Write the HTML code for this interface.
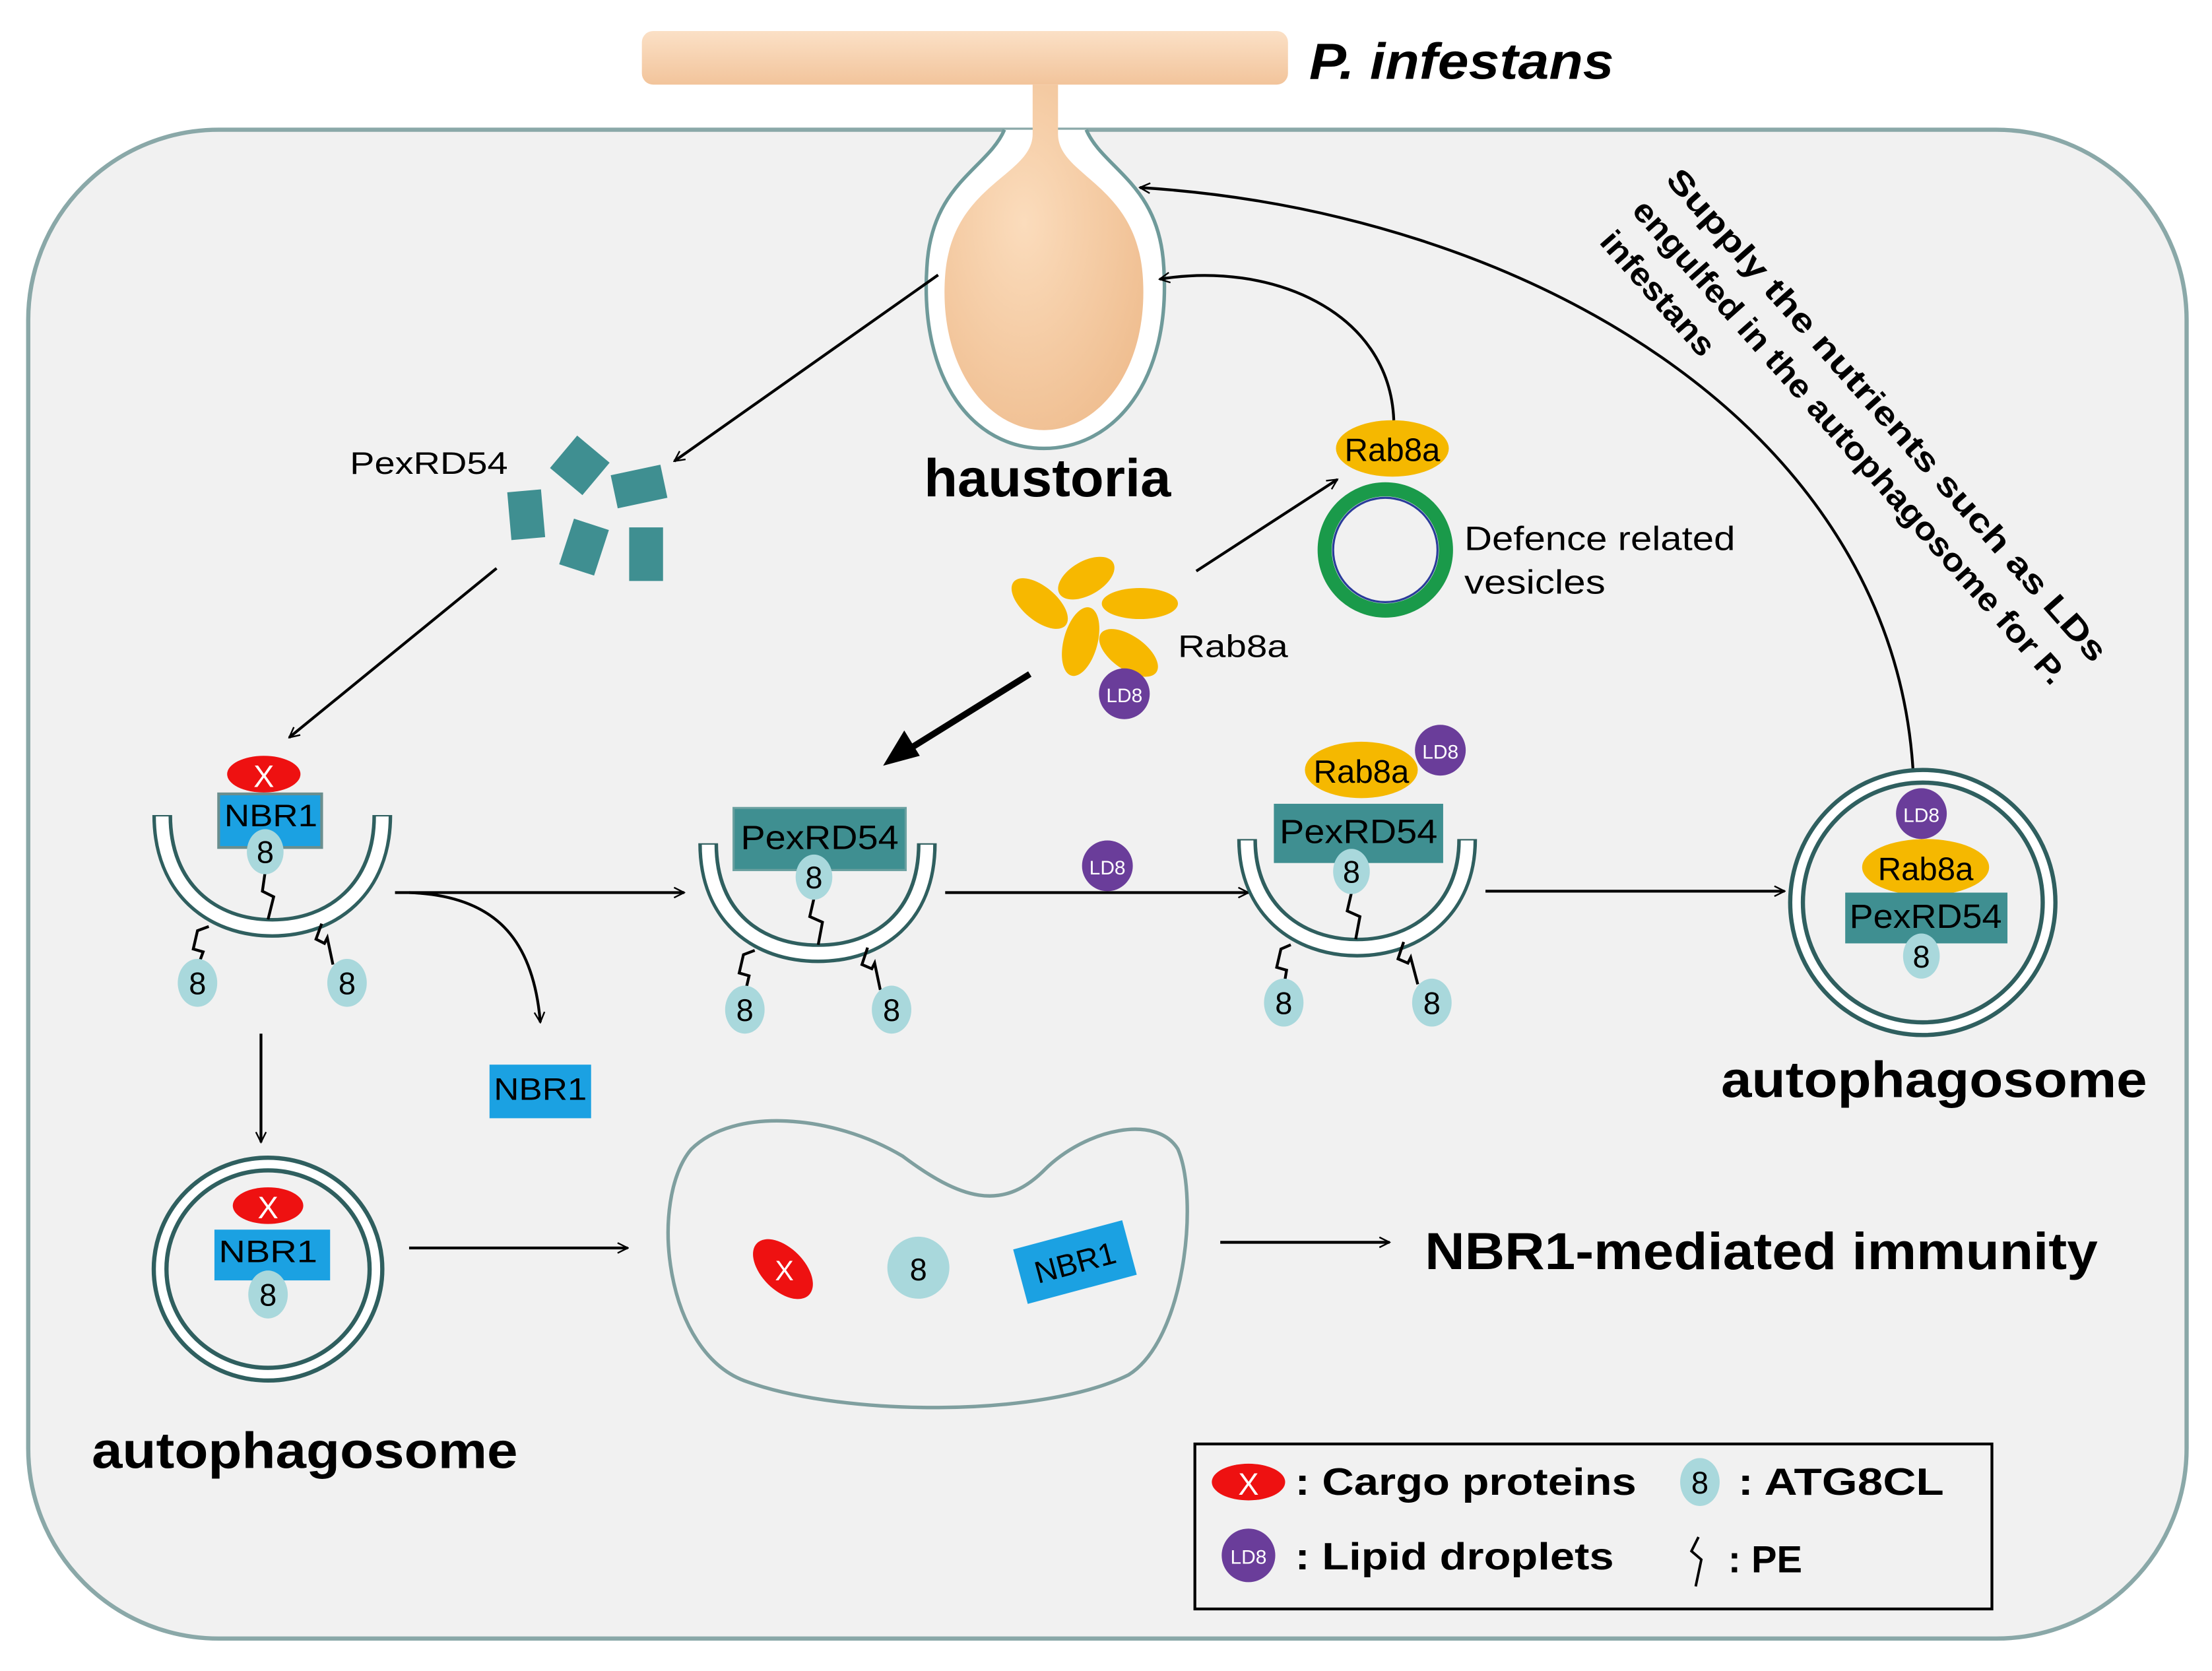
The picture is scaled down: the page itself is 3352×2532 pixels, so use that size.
<!DOCTYPE html>
<html><head><meta charset="utf-8"><style>
html,body{margin:0;padding:0;background:#fff}
svg{display:block}
text{font-family:"Liberation Sans",Arial,sans-serif}
</style></head><body>
<svg width="3352" height="2532" viewBox="0 0 1568 1185" preserveAspectRatio="none" xmlns="http://www.w3.org/2000/svg">
<defs>
<marker id="ah" viewBox="0 0 20 20" refX="18" refY="10" markerWidth="9" markerHeight="9" orient="auto" markerUnits="userSpaceOnUse">
<path d="M2,2 L18,10 L2,18" fill="none" stroke="#000" stroke-width="2.5"/></marker>
<linearGradient id="hy" x1="0" y1="0" x2="0" y2="1"><stop offset="0" stop-color="#fbe0c6"/><stop offset="1" stop-color="#f2c49b"/></linearGradient>
<radialGradient id="hb" cx="0.4" cy="0.4" r="0.7"><stop offset="0" stop-color="#fbdcbc"/><stop offset="1" stop-color="#efbd8f"/></radialGradient>
</defs>
<rect width="1568" height="1185" fill="#fff"/>
<rect x="20" y="92" width="1530" height="1070" rx="135" fill="#f1f1f1" stroke="#8aa8a8" stroke-width="3"/>
<rect x="455" y="22" width="458" height="38" rx="8" fill="url(#hy)"/>
<text x="928" y="56" font-size="36" font-weight="bold" font-style="italic" textLength="216" lengthAdjust="spacingAndGlyphs">P. infestans</text>
<path d="M712,92 C700,120 660,130 657,190 C652,270 690,318 740,318 C790,318 830,270 825,190 C822,130 782,120 770,92" fill="#fff" stroke="#6f9a9a" stroke-width="2.5"/>
<path d="M732,60 L732,95 C732,125 675,130 670,195 C665,260 700,305 740,305 C780,305 815,260 810,195 C805,130 750,125 750,95 L750,60 Z" fill="url(#hb)"/>
<text x="655" y="352" font-size="38" font-weight="bold" textLength="175" lengthAdjust="spacingAndGlyphs">haustoria</text>
<text x="248" y="336" font-size="22" textLength="112" lengthAdjust="spacingAndGlyphs">PexRD54</text>
<g fill="#3f8f91">
<rect x="-15" y="-15" width="30" height="30" transform="translate(411,330) rotate(40)"/>
<rect x="-18" y="-12" width="36" height="24" transform="translate(453,345) rotate(-12)"/>
<rect x="-12" y="-17" width="24" height="34" transform="translate(373,365) rotate(-5)"/>
<rect x="-13" y="-17" width="26" height="34" transform="translate(414,388) rotate(18)"/>
<rect x="-12" y="-19" width="24" height="38" transform="translate(458,393)"/>
</g>
<ellipse cx="987" cy="318" rx="40" ry="20" fill="#f5b800"/>
<text x="987" y="327" font-size="23" text-anchor="middle">Rab8a</text>
<circle cx="982" cy="390" r="43" fill="none" stroke="#1a9a4a" stroke-width="10"/>
<circle cx="982" cy="390" r="37" fill="none" stroke="#2a3c9a" stroke-width="1.5"/>
<text x="1038" y="390" font-size="24" textLength="192" lengthAdjust="spacingAndGlyphs">Defence related</text>
<text x="1038" y="421" font-size="24" textLength="100" lengthAdjust="spacingAndGlyphs">vesicles</text>
<g fill="#f7b800">
<ellipse cx="737" cy="428" rx="24" ry="12" transform="rotate(40 737 428)"/>
<ellipse cx="770" cy="410" rx="22" ry="12" transform="rotate(-30 770 410)"/>
<ellipse cx="808" cy="428" rx="27" ry="11"/>
<ellipse cx="766" cy="455" rx="12" ry="25" transform="rotate(15 766 455)"/>
<ellipse cx="800" cy="463" rx="24" ry="12" transform="rotate(35 800 463)"/>
</g>
<circle cx="797" cy="492" r="18" fill="#6a3d9a"/><text x="797" y="498" font-size="14" fill="#fff" text-anchor="middle">LD8</text>
<text x="835" y="466" font-size="22" textLength="78" lengthAdjust="spacingAndGlyphs">Rab8a</text>
<g font-size="23" font-weight="bold">
<text transform="translate(1180,128) rotate(48.5)" textLength="458" lengthAdjust="spacingAndGlyphs">Supply the nutrients such as LDs</text>
<text transform="translate(1156,150) rotate(48.5)" textLength="450" lengthAdjust="spacingAndGlyphs">engulfed in the autophagosome for P.</text>
<text transform="translate(1133,172) rotate(48.5)" textLength="110" lengthAdjust="spacingAndGlyphs">infestans</text>
</g>
<g fill="none" stroke="#000" stroke-width="2" marker-end="url(#ah)">
<path d="M665,195 L478,327"/>
<path d="M352,403 L205,523"/>
<path d="M280,633 L485,633"/>
<path d="M290,633 C350,635 378,665 383,725"/>
<path d="M185,733 L185,810"/>
<path d="M670,633 L885,633"/>
<path d="M1053,632 L1265,632"/>
<path d="M290,885 L445,885"/>
<path d="M865,881 L985,881"/>
<path d="M848,405 L948,340"/>
<path d="M988,298 C985,220 900,185 822,198"/>
<path d="M1356,545 C1340,300 1080,150 808,133"/>
</g>
<path d="M730,478 L640,534" fill="none" stroke="#000" stroke-width="4.5"/>
<path d="M626,543 L641,518 L652,536 Z" fill="#000"/>
<g fill="none">
<g stroke="#2f5f5f" stroke-width="14">
<path d="M115,578 C115,630 150,658 193,658 C236,658 271,630 271,578"/>
<path d="M502,598 C502,650 537,676 580,676 C623,676 657,650 657,598"/>
<path d="M884,595 C884,645 920,672 962,672 C1004,672 1040,645 1040,595"/>
</g>
<g stroke="#fff" stroke-width="9">
<path d="M115,579 C115,630 150,658 193,658 C236,658 271,630 271,579"/>
<path d="M502,599 C502,650 537,676 580,676 C623,676 657,650 657,599"/>
<path d="M884,596 C884,645 920,672 962,672 C1004,672 1040,645 1040,596"/>
</g>
</g>
<g fill="none" stroke="#000" stroke-width="2">
<path d="M188,618 L186,632 L194,636 L190,652"/>
<path d="M148,657 L140,660 L137,673 L144,675 L140,686"/>
<path d="M228,655 L224,666 L230,669 L232,665 L236,684"/>
<path d="M577,637 L574,650 L583,654 L580,670"/>
<path d="M535,674 L527,677 L524,690 L531,692 L528,705"/>
<path d="M615,672 L611,684 L618,687 L620,683 L624,702"/>
<path d="M958,633 L955,646 L964,650 L961,666"/>
<path d="M915,670 L908,673 L905,686 L912,688 L910,700"/>
<path d="M995,668 L991,680 L998,683 L1000,679 L1005,698"/>
<path d="M1362,693 L1359,706 L1368,710 L1362,722"/>
<path d="M190,935 L186,946 L195,951 L190,968"/>
<path d="M698,945 L707,949 L700,958 L712,965 L706,976"/>
</g>
<g fill="#a9d8dc">
<ellipse cx="140" cy="697" rx="14" ry="17"/><ellipse cx="246" cy="697" rx="14" ry="17"/>
<ellipse cx="528" cy="716" rx="14" ry="17"/><ellipse cx="632" cy="716" rx="14" ry="17"/>
<ellipse cx="910" cy="711" rx="14" ry="17"/><ellipse cx="1015" cy="711" rx="14" ry="17"/>
</g>
<ellipse cx="187" cy="549" rx="26" ry="13" fill="#ee1111"/><text x="187" y="558" font-size="22" fill="#fff" text-anchor="middle">X</text>
<rect x="155" y="563" width="73" height="38" fill="#1ba1e2" stroke="#6a8f8f" stroke-width="2"/>
<text x="192" y="586" font-size="22" text-anchor="middle" textLength="66" lengthAdjust="spacingAndGlyphs">NBR1</text>
<ellipse cx="188" cy="604" rx="13" ry="16" fill="#a9d8dc"/>
<rect x="520" y="573" width="122" height="44" fill="#3f8f91" stroke="#6aa0a0" stroke-width="1.5"/>
<text x="581" y="602" font-size="24" text-anchor="middle" textLength="112" lengthAdjust="spacingAndGlyphs">PexRD54</text>
<ellipse cx="577" cy="622" rx="13" ry="16" fill="#a9d8dc"/>
<rect x="903" y="570" width="120" height="42" fill="#3f8f91"/>
<text x="963" y="598" font-size="24" text-anchor="middle" textLength="112" lengthAdjust="spacingAndGlyphs">PexRD54</text>
<ellipse cx="965" cy="546" rx="40" ry="20" fill="#f5b800"/><text x="965" y="555" font-size="23" text-anchor="middle">Rab8a</text>
<circle cx="1021" cy="532" r="18" fill="#6a3d9a"/><text x="1021" y="538" font-size="14" fill="#fff" text-anchor="middle">LD8</text>
<ellipse cx="958" cy="618" rx="13" ry="16" fill="#a9d8dc"/>
<circle cx="785" cy="614" r="18" fill="#6a3d9a"/><text x="785" y="620" font-size="14" fill="#fff" text-anchor="middle">LD8</text>
<g font-size="22" text-anchor="middle">
<text x="188" y="612">8</text><text x="140" y="705">8</text><text x="246" y="705">8</text>
<text x="577" y="630">8</text><text x="528" y="724">8</text><text x="632" y="724">8</text>
<text x="958" y="626">8</text><text x="910" y="719">8</text><text x="1015" y="719">8</text>
</g>
<circle cx="1363" cy="640" r="94" fill="#fff" stroke="#2f5f5f" stroke-width="3"/>
<circle cx="1363" cy="640" r="85" fill="#f1f1f1" stroke="#2f5f5f" stroke-width="3"/>
<circle cx="1362" cy="577" r="18" fill="#6a3d9a"/><text x="1362" y="583" font-size="14" fill="#fff" text-anchor="middle">LD8</text>
<ellipse cx="1365" cy="615" rx="45" ry="20" fill="#f5b800"/><text x="1365" y="624" font-size="23" text-anchor="middle">Rab8a</text>
<rect x="1308" y="633" width="115" height="36" fill="#3f8f91"/><text x="1365" y="658" font-size="24" text-anchor="middle" textLength="108" lengthAdjust="spacingAndGlyphs">PexRD54</text>
<ellipse cx="1362" cy="678" rx="13" ry="16" fill="#a9d8dc"/><text x="1362" y="686" font-size="22" text-anchor="middle">8</text>
<text x="1220" y="778" font-size="36" font-weight="bold" textLength="302" lengthAdjust="spacingAndGlyphs">autophagosome</text>
<ellipse cx="190" cy="900" rx="81" ry="79" fill="#fff" stroke="#2f5f5f" stroke-width="3"/>
<ellipse cx="190" cy="900" rx="72" ry="70" fill="#f1f1f1" stroke="#2f5f5f" stroke-width="3"/>
<ellipse cx="190" cy="855" rx="25" ry="13" fill="#ee1111"/><text x="190" y="864" font-size="22" fill="#fff" text-anchor="middle">X</text>
<rect x="152" y="872" width="82" height="36" fill="#1ba1e2"/><text x="190" y="895" font-size="22" text-anchor="middle" textLength="70" lengthAdjust="spacingAndGlyphs">NBR1</text>
<ellipse cx="190" cy="918" rx="14" ry="17" fill="#a9d8dc"/><text x="190" y="926" font-size="22" text-anchor="middle">8</text>
<text x="65" y="1041" font-size="36" font-weight="bold" textLength="302" lengthAdjust="spacingAndGlyphs">autophagosome</text>
<rect x="347" y="755" width="72" height="38" fill="#1ba1e2"/><text x="383" y="780" font-size="22" text-anchor="middle" textLength="66" lengthAdjust="spacingAndGlyphs">NBR1</text>
<path d="M490,815 C520,785 590,790 640,820 C680,850 710,860 740,830 C770,800 820,790 835,815 C850,850 840,950 800,975 C740,1005 600,1005 530,980 C470,960 460,850 490,815 Z" fill="#f1f1f1" stroke="#7f9f9f" stroke-width="2.5"/>
<ellipse cx="555" cy="900" rx="26" ry="15" transform="rotate(45 555 900)" fill="#ee1111"/><text x="556" y="908" font-size="20" fill="#fff" text-anchor="middle">X</text>
<ellipse cx="651" cy="899" rx="22" ry="22" fill="#a9d8dc"/><text x="651" y="908" font-size="22" text-anchor="middle">8</text>
<g transform="translate(762,895) rotate(-15)"><rect x="-40" y="-20" width="80" height="40" fill="#1ba1e2"/><text x="0" y="8" font-size="22" text-anchor="middle">NBR1</text></g>
<text x="1010" y="900" font-size="37" font-weight="bold" textLength="477" lengthAdjust="spacingAndGlyphs">NBR1-mediated immunity</text>
<rect x="847" y="1024" width="565" height="117" fill="none" stroke="#000" stroke-width="2"/>
<ellipse cx="885" cy="1051" rx="26" ry="13" fill="#ee1111"/><text x="885" y="1060" font-size="22" fill="#fff" text-anchor="middle">X</text>
<text x="918" y="1060" font-size="27" font-weight="bold" textLength="242" lengthAdjust="spacingAndGlyphs">: Cargo proteins</text>
<ellipse cx="1205" cy="1051" rx="14" ry="17" fill="#a9d8dc"/><text x="1205" y="1059" font-size="22" text-anchor="middle">8</text>
<text x="1232" y="1060" font-size="27" font-weight="bold" textLength="146" lengthAdjust="spacingAndGlyphs">: ATG8CL</text>
<circle cx="885" cy="1103" r="19" fill="#6a3d9a"/><text x="885" y="1109" font-size="14" fill="#fff" text-anchor="middle">LD8</text>
<text x="918" y="1113" font-size="27" font-weight="bold" textLength="226" lengthAdjust="spacingAndGlyphs">: Lipid droplets</text>
<path d="M1204,1090 L1199,1100 L1206,1106 L1202,1125" fill="none" stroke="#000" stroke-width="1.8"/>
<text x="1225" y="1115" font-size="27" font-weight="bold">: PE</text>
</svg>
</body></html>
